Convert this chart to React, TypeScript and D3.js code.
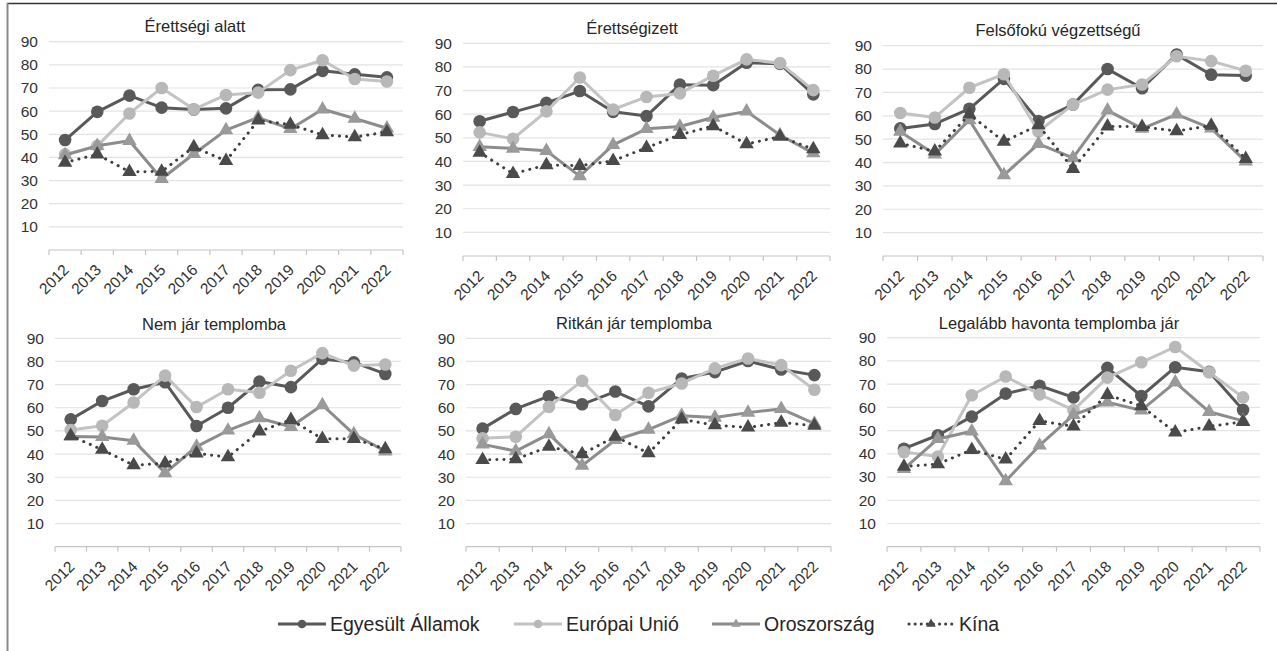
import { useMemo } from "react"
import * as d3 from "d3"

const years = ["2012", "2013", "2014", "2015", "2016", "2017", "2018", "2019", "2020", "2021", "2022"]
const yTicks = [10, 20, 30, 40, 50, 60, 70, 80, 90]

const panelTitles = [
  "Érettségi alatt",
  "Érettségizett",
  "Felsőfokú végzettségű",
  "Nem jár templomba",
  "Ritkán jár templomba",
  "Legalább havonta templomba jár",
]

const seriesNames = ["Egyesült Államok", "Európai Unió", "Oroszország", "Kína"]

// one row per panel, one value per year
const usData = [
  [47.5, 59.7, 66.7, 61.5, 60.7, 61.2, 69.2, 69.4, 77.4, 75.9, 74.6],
  [57, 60.9, 64.8, 69.8, 61, 59.2, 72.5, 72.3, 81.8, 81.3, 68.4],
  [54.6, 56.5, 63, 75.8, 57.8, 64.8, 80, 71.8, 86.2, 77.6, 77.2],
  [55, 62.9, 68, 71, 52.1, 60, 71.3, 68.9, 81.1, 79.6, 74.6],
  [51, 59.5, 65, 61.5, 67, 60.6, 72.6, 75.4, 80.2, 76.5, 74.1],
  [42.2, 48, 56, 65.9, 69.3, 64.3, 77, 64.9, 77.3, 75.3, 58.9],
]
const euData = [
  [41.3, 45, 59, 70, 60.8, 67, 68, 77.7, 82, 73.9, 72.8],
  [52.3, 49.6, 61.2, 75.5, 62, 67.3, 68.8, 76.3, 83.2, 81.6, 70.2],
  [61.2, 59.3, 72, 77.8, 53.3, 64.8, 71.2, 73.4, 85.5, 83.4, 79.3],
  [50.4, 52.2, 62.3, 73.9, 60.3, 68, 66.5, 76, 83.6, 78.2, 78.7],
  [46.8, 47.5, 60.4, 71.6, 56.9, 66.5, 70.5, 77, 81.3, 78.4, 67.8],
  [40.8, 38.8, 65.2, 73.3, 65.6, 58.8, 72.8, 79.4, 86, 75.1, 64.3],
]
const ruData = [
  [41, 45, 47.2, 30.8, 41.5, 51.8, 57.2, 52.3, 60.8, 56.8, 52.6],
  [46.2, 45.5, 44.5, 33.8, 47, 53.8, 54.8, 58.6, 61.2, 51.2, 43.5],
  [53.2, 43.5, 58.2, 34.6, 48, 42, 62.3, 54.5, 60.6, 54.6, 40.5],
  [47.6, 47.4, 45.8, 31.8, 43.2, 50.2, 55.5, 51.8, 61.2, 48.6, 41.2],
  [44.2, 41.3, 48.6, 35, 46.1, 50.6, 56.6, 55.8, 57.9, 59.5, 53.2],
  [33.5, 46.4, 49.7, 28.3, 43.6, 56.8, 62.2, 58.7, 70.8, 58.1, 54.2],
]
const cnData = [
  [37.8, 41.3, 33.8, 33.9, 44.5, 38.5, 56, 54.2, 49.7, 48.8, 51],
  [43.8, 34.8, 38.5, 38.2, 40.3, 45.8, 51.3, 55, 47.4, 50.5, 45.2],
  [48.2, 44.8, 60.6, 49, 56, 37.3, 55.5, 55.3, 53.5, 55.8, 41.6],
  [47.9, 41.9, 35.2, 36, 40.3, 38.7, 49.8, 54.8, 46.6, 46.6, 42.2],
  [37.5, 37.8, 43.2, 40, 47.6, 40.4, 55, 52.5, 51.5, 53.6, 52.3],
  [34.5, 35.6, 41.7, 37.6, 54.2, 51.8, 65.4, 60.6, 49.2, 51.8, 53.8],
]

const W = 1277
const H = 651
const FONT = "'Liberation Sans', Arial, sans-serif"

// plot rectangles: x0, x1, y of the 90 gridline, baseline (0)
const panels = [
  { x0: 49, x1: 403, top: 41.7, base: 250, titleX: 195, titleY: 32 },
  { x0: 463, x1: 830, top: 43.3, base: 256, titleX: 632, titleY: 34 },
  { x0: 883, x1: 1263, top: 45.7, base: 256, titleX: 1058, titleY: 35.5 },
  { x0: 55, x1: 401, top: 338.3, base: 546.7, titleX: 214, titleY: 330 },
  { x0: 466, x1: 831, top: 338.3, base: 546.7, titleX: 634, titleY: 328.5 },
  { x0: 887, x1: 1260, top: 337.7, base: 546.7, titleX: 1059, titleY: 328.5 },
]

const styles = [
  { line: "#595959", marker: "#595959", shape: "circle", dash: null },
  { line: "#c3c3c3", marker: "#b8b8b8", shape: "circle", dash: null },
  { line: "#8c8c8c", marker: "#9a9a9a", shape: "triangle", dash: null },
  { line: "#3f3f3f", marker: "#4a4a4a", shape: "triangle", dash: "0.1 7" },
]

const legendX = [278, 514, 712, 907]
const legendY = 624

function Panel({ idx }: { idx: number }) {
  const p = panels[idx]
  const x = d3.scaleBand<string>().domain(years).range([p.x0, p.x1])
  const y = d3.scaleLinear().domain([0, 90]).range([p.base, p.top])
  const cx = (yr: string) => (x(yr) as number) + x.bandwidth() / 2
  const line = d3
    .line<number>()
    .x((_, i) => cx(years[i]))
    .y((v) => y(v))
  const tri = d3.symbol().type(d3.symbolTriangle).size(90)()
  const all = [usData[idx], euData[idx], ruData[idx], cnData[idx]]
  const bounds = [...years.map((yr) => x(yr) as number), p.x1]

  return (
    <g>
      <text x={p.titleX} y={p.titleY} textAnchor="middle" fontSize={16.5} fill="#262626" fontFamily={FONT}>
        {panelTitles[idx]}
      </text>
      {yTicks.map((t) => (
        <g key={t}>
          <line x1={p.x0} x2={p.x1} y1={y(t)} y2={y(t)} stroke="#e3e3e3" strokeWidth={1.2} />
          <text x={p.x0 - 11} y={y(t)} dy="0.35em" textAnchor="end" fontSize={15.5} fill="#333" fontFamily={FONT}>
            {t}
          </text>
        </g>
      ))}
      <line x1={p.x0} x2={p.x1} y1={p.base} y2={p.base} stroke="#c4c4c4" strokeWidth={1.2} />
      {bounds.map((b, i) => (
        <line key={i} x1={b} x2={b} y1={p.base} y2={p.base + 5} stroke="#c4c4c4" strokeWidth={1.2} />
      ))}
      {years.map((yr) => (
        <text
          key={yr}
          transform={`translate(${cx(yr) + 1},${p.base + 17}) rotate(-45)`}
          dy="0.35em"
          textAnchor="end"
          fontSize={15.5}
          fill="#333"
          fontFamily={FONT}
        >
          {yr}
        </text>
      ))}
      {all.map((vals, s) => {
        const st = styles[s]
        return (
          <g key={s}>
            <path
              d={line(vals) as string}
              fill="none"
              stroke={st.line}
              strokeWidth={3}
              strokeLinecap={st.dash ? "round" : "butt"}
              strokeDasharray={st.dash ?? undefined}
              strokeLinejoin="round"
            />
            {vals.map((v, i) =>
              st.shape === "circle" ? (
                <circle key={i} cx={cx(years[i])} cy={y(v)} r={6.3} fill={st.marker} />
              ) : (
                <path key={i} d={tri as string} transform={`translate(${cx(years[i])},${y(v)})`} fill={st.marker} />
              ),
            )}
          </g>
        )
      })}
    </g>
  )
}

function Legend() {
  const tri = d3.symbol().type(d3.symbolTriangle).size(40)()
  return (
    <g>
      {seriesNames.map((name, s) => {
        const st = styles[s]
        const x0 = legendX[s]
        return (
          <g key={name}>
            <line
              x1={st.dash ? x0 + 2 : x0}
              x2={x0 + 48}
              y1={legendY}
              y2={legendY}
              stroke={st.line}
              strokeWidth={3}
              strokeLinecap={st.dash ? "round" : "butt"}
              strokeDasharray={st.dash ? "0.1 6" : undefined}
            />
            {st.shape === "circle" ? (
              <circle cx={x0 + 24} cy={legendY} r={4.3} fill={st.marker} />
            ) : (
              <path d={tri as string} transform={`translate(${x0 + 24},${legendY})`} fill={st.marker} />
            )}
            <text x={x0 + 52} y={legendY} dy="0.36em" fontSize={19.5} fill="#262626" fontFamily={FONT}>
              {name}
            </text>
          </g>
        )
      })}
    </g>
  )
}

export default function App() {
  const ids = useMemo(() => panels.map((_, i) => i), [])
  return (
    <div style={{ position: "absolute", left: 0, top: 0 }}>
      <svg width={W} height={H} style={{ display: "block", background: "#fff" }}>
        <line x1={7} x2={W} y1={3.5} y2={3.5} stroke="#333" strokeWidth={1.5} />
        <line x1={7.5} x2={7.5} y1={3} y2={H} stroke="#8a8a8a" strokeWidth={2} />
        {ids.map((i) => (
          <Panel key={i} idx={i} />
        ))}
        <Legend />
      </svg>
    </div>
  )
}
